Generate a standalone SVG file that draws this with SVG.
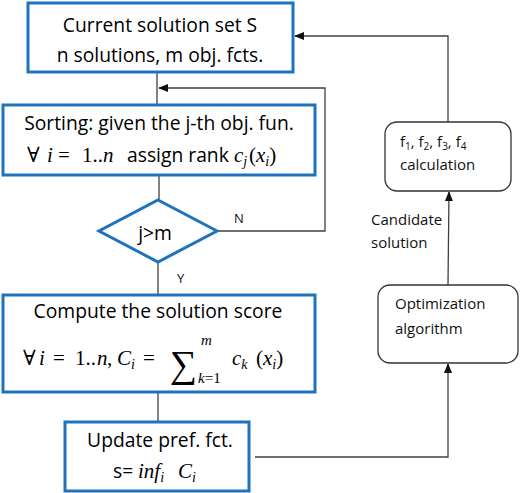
<svg xmlns="http://www.w3.org/2000/svg" width="520" height="493" viewBox="0 0 520 493">
<defs>
<style>
.box{fill:#fff;stroke:#1e73be;stroke-width:3}
.rbox{fill:#fff;stroke:#333;stroke-width:1.3}
.ln{fill:none;stroke:#404040;stroke-width:1.3}
.t{font-family:"Open Sans","Liberation Sans",sans-serif;font-size:19.3px;fill:#000}
.s{font-family:"Open Sans","Liberation Sans",sans-serif;font-size:15px;fill:#111}
.lb{font-family:"Open Sans","Liberation Sans",sans-serif;font-size:13px;fill:#111}
.mi{font-family:"Liberation Serif","DejaVu Serif",serif;font-style:italic;font-size:21px;fill:#000}
.mu{font-family:"Liberation Serif","DejaVu Serif",serif;font-style:normal;font-size:21px;fill:#000}
.sub{font-size:14px}
.big{font-size:38px}
.lim{font-size:15px}
</style>
<marker id="ah" markerWidth="10" markerHeight="8" refX="9" refY="4" orient="auto" markerUnits="userSpaceOnUse">
<path d="M0,0 L10,4 L0,8 Z" fill="#111"/>
</marker>
</defs>
<rect width="520" height="493" fill="#fff"/>
<g id="connectors">
<line class="ln" x1="157" y1="72" x2="157" y2="105"/>
<polyline class="ln" points="217,231 325,231 325,88 159,88" marker-end="url(#ah)"/>
<line class="ln" x1="159" y1="175" x2="159" y2="200"/>
<line class="ln" x1="158" y1="262" x2="158" y2="295"/>
<line class="ln" x1="158" y1="392" x2="158" y2="422"/>
<polyline class="ln" points="255,457 448,457 448,364" marker-end="url(#ah)"/>
<line class="ln" x1="448" y1="285" x2="449" y2="192" marker-end="url(#ah)"/>
<polyline class="ln" points="448,122 448,36 295,36" marker-end="url(#ah)"/>
<text class="lb" x="234" y="223">N</text>
<text class="lb" x="177" y="283">Y</text>
<text class="s" x="371" y="225">Candidate</text>
<text class="s" x="371" y="248">solution</text>
</g>
<g id="current-set">
<rect class="box" x="28" y="3" width="265" height="69"/>
<text class="t" x="160" y="32" text-anchor="middle">Current solution set S</text>
<text class="t" x="160" y="62" text-anchor="middle">n solutions, m obj. fcts.</text>
</g>
<g id="sorting">
<rect class="box" x="3" y="105" width="312" height="70"/>
<text class="t" x="159" y="130" text-anchor="middle">Sorting: given the j-th obj. fun.</text>
<text class="mu" x="27" y="162">∀</text>
<text class="mi" x="47" y="162">i</text>
<text class="mu" x="58" y="162">=</text>
<text class="mu" x="82" y="162">1..<tspan class="mi">n</tspan></text>
<text class="t" x="127" y="162">assign rank</text>
<text class="mi" x="234" y="162">c<tspan class="sub" dy="4">j</tspan></text>
<text class="mu" x="249" y="162">(<tspan class="mi">x</tspan><tspan class="mi sub" dy="4">i</tspan><tspan dy="-4">)</tspan></text>
</g>
<g id="decision">
<polygon class="box" points="158,200 217,231 158,262 99,231"/>
<text class="t" x="155" y="240" text-anchor="middle">j&gt;m</text>
</g>
<g id="compute-score">
<rect class="box" x="3" y="295" width="312" height="97"/>
<text class="t" x="158" y="318" text-anchor="middle">Compute the solution score</text>
<text class="mu" x="23" y="365">∀</text>
<text class="mi" x="39" y="365">i</text>
<text class="mu" x="53" y="365">=</text>
<text class="mu" x="75" y="365">1..</text>
<text class="mi" x="97" y="365">n</text>
<text class="mu" x="107" y="365">,</text>
<text class="mi" x="117" y="365">C<tspan class="sub" dy="4">i</tspan></text>
<text class="mu" x="143" y="365">=</text>
<text class="mu big" x="170" y="377">∑</text>
<text class="mi lim" x="201" y="345">m</text>
<text class="mi lim" x="198" y="383">k<tspan class="mu lim">=1</tspan></text>
<text class="mi" x="232" y="365">c<tspan class="sub" dy="4">k</tspan></text>
<text class="mu" x="256" y="365">(<tspan class="mi">x</tspan><tspan class="mi sub" dy="4">i</tspan><tspan dy="-4">)</tspan></text>
</g>
<g id="update-pref">
<rect class="box" x="65" y="422" width="184" height="69"/>
<text class="t" x="160" y="447" text-anchor="middle">Update pref. fct.</text>
<text class="t" x="113" y="478">s=</text>
<text class="mi" x="138" y="478">inf<tspan class="sub" dy="4">i</tspan></text>
<text class="mi" x="178" y="478">C<tspan class="sub" dy="4">i</tspan></text>
</g>
<g id="calc">
<rect class="rbox" x="385" y="122" width="126" height="69" rx="12"/>
<text class="s" x="400" y="147">f<tspan font-size="10" dy="3">1</tspan><tspan dy="-3">, f</tspan><tspan font-size="10" dy="3">2</tspan><tspan dy="-3">, f</tspan><tspan font-size="10" dy="3">3</tspan><tspan dy="-3">, f</tspan><tspan font-size="10" dy="3">4</tspan></text>
<text class="s" x="400" y="170">calculation</text>
</g>
<g id="optimization">
<rect class="rbox" x="378" y="285" width="140" height="78" rx="12"/>
<text class="s" x="395" y="309">Optimization</text>
<text class="s" x="395" y="334">algorithm</text>
</g>
</svg>
